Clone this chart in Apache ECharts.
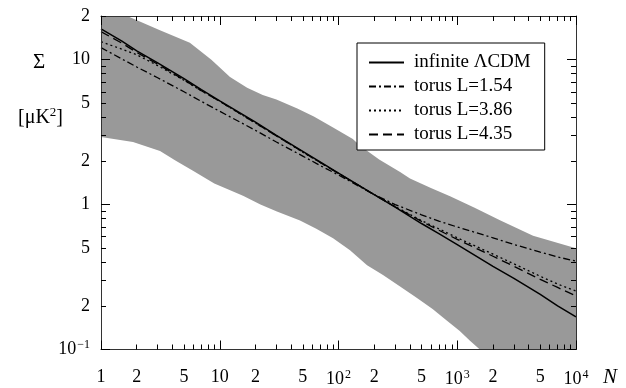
<!DOCTYPE html>
<html>
<head>
<meta charset="utf-8">
<script src="https://cdn.jsdelivr.net/npm/echarts@6/dist/echarts.min.js"></script>
<style>html,body{margin:0;padding:0;background:#fff}#c{width:626px;height:388px}</style>
</head>
<body>
<div id="c"></div>
<script>
// ---- data ----
const nValues = [1, 1.5, 2, 3, 5, 7, 10, 20, 30, 50, 70, 100, 200, 300, 500, 700, 1000, 2000, 3000, 5000, 7000, 10000];
const infiniteLCDM = [16.3, 13.4, 11.5, 9.5, 7.4, 6.2, 5.2, 3.7, 3.0, 2.33, 1.97, 1.65, 1.17, 0.96, 0.74, 0.63, 0.53, 0.375, 0.31, 0.24, 0.20, 0.168];
const torus154 = [12.1, 10.1, 8.9, 7.5, 6.0, 5.15, 4.4, 3.25, 2.7, 2.16, 1.86, 1.6, 1.17, 1.0, 0.85, 0.77, 0.70, 0.59, 0.53, 0.47, 0.435, 0.407];
const torus386 = [13.3, 11.8, 10.8, 9.1, 7.2, 6.1, 5.15, 3.65, 2.98, 2.3, 1.95, 1.64, 1.17, 0.97, 0.775, 0.68, 0.59, 0.455, 0.39, 0.32, 0.283, 0.253];
const torus435 = [15.6, 13.0, 11.2, 9.3, 7.25, 6.1, 5.15, 3.65, 2.98, 2.31, 1.95, 1.64, 1.17, 0.965, 0.765, 0.665, 0.575, 0.44, 0.375, 0.305, 0.268, 0.234];

// grey band (cosmic variance region): upper and lower edges
const bandUpperN = [1, 1.66, 3.1, 5.6, 8.5, 12.2, 17, 23, 30, 45, 62, 90, 132, 152, 220, 330, 400, 600, 870, 1400, 2290, 4350, 10000];
const bandUpperS = [20, 20, 16.0, 13.1, 10.0, 7.6, 6.4, 5.7, 5.3, 4.6, 4.05, 3.4, 2.83, 2.55, 2.05, 1.68, 1.51, 1.3, 1.14, 0.95, 0.78, 0.61, 0.5];
const bandLowerN = [1, 1.86, 3.14, 4.3, 5.95, 9, 15.7, 22, 30.3, 47.4, 65, 90, 125, 174, 237, 330, 458, 620, 820, 1050, 1280, 1550];
const bandLowerS = [2.92, 2.70, 2.34, 2.0, 1.71, 1.4, 1.15, 1.0, 0.895, 0.776, 0.68, 0.585, 0.484, 0.382, 0.326, 0.272, 0.227, 0.19, 0.158, 0.134, 0.115, 0.1];

const seriesNames = ['infinite \u039BCDM', 'torus L=1.54', 'torus L=3.86', 'torus L=4.35'];

// ticks
const xMajor = [1, 10, 100, 1000, 10000];
const xMinor = [2,3,4,5,6,7,8,9, 20,30,40,50,60,70,80,90, 200,300,400,500,600,700,800,900, 2000,3000,4000,5000,6000,7000,8000,9000];
const xLabelValues = [1, 2, 5, 10, 20, 50, 100, 200, 500, 1000, 2000, 5000, 10000];
const xLabelTexts = ['1', '2', '5', '10', '2', '5', '10{sup|2}', '2', '5', '10{sup|3}', '2', '5', '10{sup|4}'];
const yMajor = [0.1, 1, 10];
const yMinor = [0.2,0.3,0.4,0.5,0.6,0.7,0.8,0.9, 2,3,4,5,6,7,8,9, 20];
const yLabelValues = [0.1, 0.2, 0.5, 1, 2, 5, 10, 20];
const yLabelTexts = ['10{sup|\u22121}', '2', '5', '1', '2', '5', '10', '2'];

// ---- chart ----
const FONT = 'Liberation Serif';
function pick(vals, texts, v) {
  let best = 0, bd = Infinity;
  for (let i = 0; i < vals.length; i++) {
    const d = Math.abs(Math.log(v) - Math.log(vals[i]));
    if (d < bd) { bd = d; best = i; }
  }
  return texts[best];
}
const rich = { sup: { fontSize: 12, fontFamily: FONT, color: '#000', verticalAlign: 'bottom', padding: [0, 0, 9, 1] } };
const axisLineStyle = { color: '#333', width: 1 };

function xAx(pos, ticks, len, withLabel, withLine) {
  return {
    type: 'log', logBase: 10, min: 1, max: 10000, position: pos, z: 10,
    axisLine: { show: withLine, lineStyle: axisLineStyle },
    axisTick: { show: true, inside: true, length: len, customValues: ticks, lineStyle: { color: '#000', width: 1 } },
    axisLabel: withLabel ? {
      show: true, customValues: xLabelValues, margin: 19, color: '#000', fontFamily: FONT, fontSize: 18,
      formatter: v => pick(xLabelValues, xLabelTexts, v), rich: rich
    } : { show: false },
    splitLine: { show: false }, minorTick: { show: false }
  };
}
function yAx(pos, ticks, len, withLabel, withLine) {
  return {
    type: 'log', logBase: 10, min: 0.1, max: 20, position: pos, z: 10,
    axisLine: { show: withLine, lineStyle: axisLineStyle },
    axisTick: { show: true, inside: true, length: len, customValues: ticks, lineStyle: { color: '#000', width: 1 } },
    axisLabel: withLabel ? {
      show: true, customValues: yLabelValues, margin: 11, color: '#000', fontFamily: FONT, fontSize: 18,
      formatter: v => pick(yLabelValues, yLabelTexts, v), rich: rich
    } : { show: false },
    splitLine: { show: false }, minorTick: { show: false }
  };
}

const lineData = arr => nValues.map((n, i) => [n, arr[i]]);
const styles = [
  { type: 'solid', width: 1.5 },
  { type: [7, 3, 2, 3], width: 1.3 },
  { type: [2, 3], width: 1.3 },
  { type: [9, 5], width: 1.3 }
];
const datasets = [infiniteLCDM, torus154, torus386, torus435];

const chart = echarts.init(document.getElementById('c'), null, { renderer: 'canvas' });
chart.setOption({
  animation: false,
  backgroundColor: '#fff',
  grid: { left: 101, right: 50, top: 16, bottom: 36 },
  xAxis: [
    xAx('bottom', xMajor, 9, true, true),
    xAx('bottom', xMinor, 5, false, false),
    xAx('top', xMajor, 9, false, true),
    xAx('top', xMinor, 5, false, false)
  ],
  yAxis: [
    yAx('left', yMajor, 9, true, true),
    yAx('left', yMinor, 5, false, false),
    yAx('right', yMajor, 9, false, true),
    yAx('right', yMinor, 5, false, false)
  ],
  legend: {
    orient: 'vertical', left: 357, top: 43,
    data: seriesNames,
    itemWidth: 35, itemHeight: 14, itemGap: 5,
    padding: [10, 14, 6, 11],
    backgroundColor: '#fff', borderColor: '#000', borderWidth: 1, borderRadius: 0,
    itemStyle: { color: 'rgba(0,0,0,0)', opacity: 0, borderWidth: 0 },
    textStyle: { fontFamily: FONT, fontSize: 19, lineHeight: 16, color: '#000', padding: [0, 0, 0, 5] }
  },
  graphic: [
    { type: 'text', left: 33, top: 52, style: { text: '\u03A3', font: '21px "' + FONT + '"', fill: '#000' } },
    { type: 'text', left: 18, top: 106, style: {
        text: '[\u03BCK{sup|2}]', font: '20px "' + FONT + '"', fill: '#000',
        rich: { sup: { fontSize: 13, fontFamily: FONT, verticalAlign: 'bottom', padding: [0, 0, 10, 0] } } } },
    { type: 'text', left: 603, top: 367, style: { text: 'N', font: 'italic 21px "' + FONT + '"', fill: '#000' } }
  ],
  series: [
    {
      type: 'custom', name: 'band', coordinateSystem: 'cartesian2d', xAxisIndex: 0, yAxisIndex: 0, z: 1,
      silent: true, data: [[1, 1]],
      renderItem: function (params, api) {
        const pts = [];
        for (let i = 0; i < bandUpperN.length; i++) pts.push(api.coord([bandUpperN[i], bandUpperS[i]]));
        pts.push(api.coord([10000, 0.1]));
        for (let i = bandLowerN.length - 1; i >= 0; i--) pts.push(api.coord([bandLowerN[i], bandLowerS[i]]));
        return { type: 'polygon', shape: { points: pts }, style: { fill: '#999999' } };
      }
    }
  ].concat(datasets.map((arr, k) => ({
    type: 'line', name: seriesNames[k], data: lineData(arr), xAxisIndex: 0, yAxisIndex: 0,
    showSymbol: false, symbol: 'none', smooth: false, z: 3,
    lineStyle: Object.assign({ color: '#000' }, styles[k]),
    itemStyle: { color: '#000' }
  })))
});
</script>
</body>
</html>
